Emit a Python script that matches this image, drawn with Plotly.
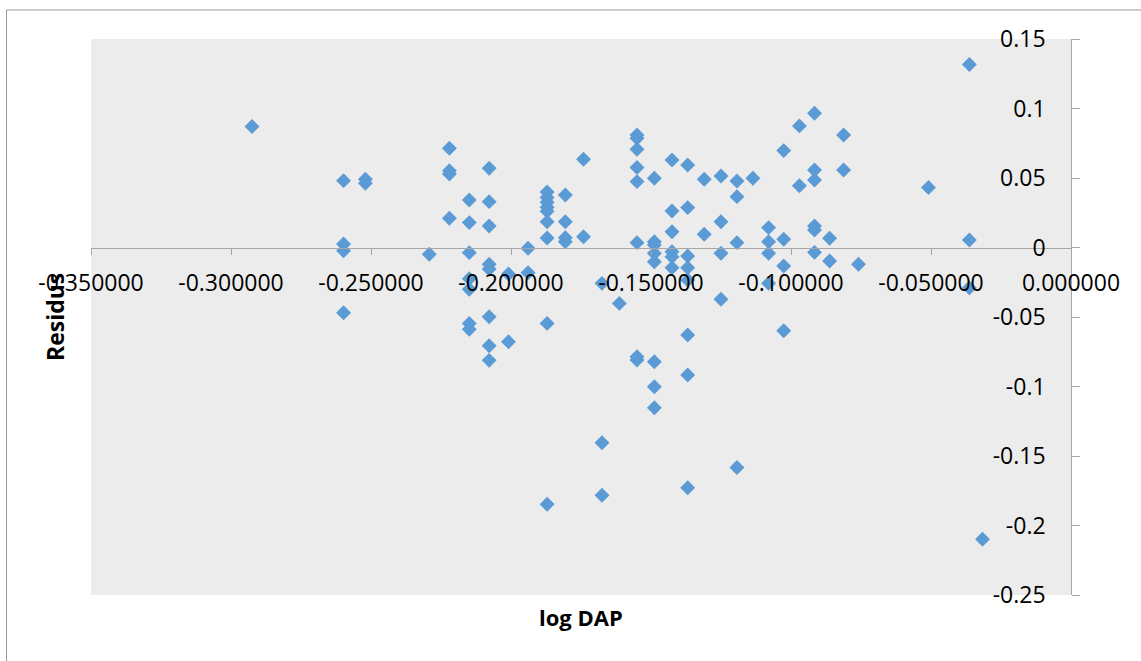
import plotly.graph_objects as go

# log DAP (x) and residuals (y) for each observation
log_dap = [
    -0.2925, -0.2598, -0.2520, -0.2520, -0.2598, -0.2598, -0.2598, -0.2292,
    -0.2220, -0.2220, -0.2220, -0.2220,
    -0.2149, -0.2149, -0.2149, -0.2149, -0.2149, -0.2149, -0.2149,
    -0.2078, -0.2078, -0.2078, -0.2078, -0.2078, -0.2078, -0.2078, -0.2078,
    -0.2009, -0.2009, -0.1939, -0.1939,
    -0.1871, -0.1871, -0.1871, -0.1871, -0.1871, -0.1871, -0.1871, -0.1871, -0.1871,
    -0.1806, -0.1806, -0.1806, -0.1806, -0.1741, -0.1741,
    -0.1675, -0.1675, -0.1675, -0.1613,
    -0.1550, -0.1550, -0.1550, -0.1550, -0.1550, -0.1550, -0.1550, -0.1550,
    -0.1488, -0.1488, -0.1488, -0.1488, -0.1488, -0.1488, -0.1488, -0.1488,
    -0.1425, -0.1425, -0.1425, -0.1425, -0.1425, -0.1425,
    -0.1369, -0.1369, -0.1369, -0.1369, -0.1369, -0.1369, -0.1369, -0.1369,
    -0.1310, -0.1310, -0.1250, -0.1250, -0.1250, -0.1250,
    -0.1193, -0.1193, -0.1193, -0.1193, -0.1136,
    -0.1080, -0.1080, -0.1080, -0.1080,
    -0.1026, -0.1026, -0.1026, -0.1026, -0.0970, -0.0970,
    -0.0916, -0.0916, -0.0916, -0.0916, -0.0916, -0.0916,
    -0.0862, -0.0862, -0.0812, -0.0812, -0.0759,
    -0.0509, -0.0363, -0.0363, -0.0363, -0.0316,
]
residus = [
    0.0870, 0.0481, 0.0491, 0.0462, 0.0025, -0.0023, -0.0469, -0.0049,
    0.0714, 0.0553, 0.0529, 0.0210,
    0.0342, 0.0179, -0.0037, -0.0225, -0.0300, -0.0546, -0.0589,
    0.0570, 0.0330, 0.0155, -0.0121, -0.0155, -0.0498, -0.0707, -0.0812,
    -0.0191, -0.0678, -0.0006, -0.0181,
    0.0400, 0.0360, 0.0325, 0.0290, 0.0260, 0.0186, 0.0068, -0.0546, -0.1847,
    0.0378, 0.0186, 0.0071, 0.0042, 0.0635, 0.0078,
    -0.0258, -0.1405, -0.1782, -0.0402,
    0.0810, 0.0786, 0.0707, 0.0575, 0.0474, 0.0035, -0.0786, -0.0810,
    0.0498, 0.0042, 0.0018, -0.0042, -0.0102, -0.0822, -0.1002, -0.1153,
    0.0630, 0.0263, 0.0114, -0.0030, -0.0066, -0.0145,
    0.0594, 0.0287, -0.0061, -0.0145, -0.0234, -0.0630, -0.0918, -0.1729,
    0.0491, 0.0095, 0.0515, 0.0186, -0.0042, -0.0373,
    0.0479, 0.0366, 0.0035, -0.1583, 0.0498,
    0.0143, 0.0042, -0.0042, -0.0258,
    0.0697, 0.0059, -0.0133, -0.0599, 0.0875, 0.0445,
    0.0966, 0.0558, 0.0486, 0.0155, 0.0126, -0.0035,
    0.0066, -0.0097, 0.0810, 0.0558, -0.0121,
    0.0431, 0.1316, 0.0054, -0.0289, -0.2099,
]

x_ticks = [-0.35, -0.30, -0.25, -0.20, -0.15, -0.10, -0.05, 0.0]
x_tick_labels = ["-0.350000", "-0.300000", "-0.250000", "-0.200000",
                 "-0.150000", "-0.100000", "-0.050000", "0.000000"]
y_ticks = [-0.25, -0.20, -0.15, -0.10, -0.05, 0.0, 0.05, 0.10, 0.15]
y_tick_labels = ["-0.25", "-0.2", "-0.15", "-0.1", "-0.05", "0", "0.05", "0.1", "0.15"]

FONT = "Open Sans"
AXIS_GREY = "#A6A6A6"

fig = go.Figure(
    go.Scatter(
        x=log_dap,
        y=residus,
        mode="markers",
        marker=dict(symbol="diamond", size=11.5, color="#5B9BD5", line=dict(width=0)),
        cliponaxis=False,
        hoverinfo="x+y",
    )
)

fig.update_layout(
    width=1141,
    height=661,
    margin=dict(l=91, r=70, t=39, b=66, pad=0),
    paper_bgcolor="white",
    plot_bgcolor="#ECECEC",
    showlegend=False,
    font=dict(family=FONT, size=23, color="black"),
    xaxis=dict(
        range=[-0.35, 0.0],
        tickvals=x_ticks,
        ticktext=x_tick_labels,
        showgrid=False,
        zeroline=False,
        showline=True,
        linecolor=AXIS_GREY,
        linewidth=1,
        ticks="outside",
        ticklen=6,
        tickcolor=AXIS_GREY,
        anchor="free",
        position=0.625,
        tickfont=dict(family=FONT, size=23, color="black"),
        ticklabelstandoff=9,
        ticklabeloverflow="allow",
    ),
    yaxis=dict(
        range=[-0.25, 0.15],
        tickvals=y_ticks,
        ticktext=y_tick_labels,
        side="right",
        showgrid=False,
        zeroline=False,
        showline=True,
        linecolor=AXIS_GREY,
        linewidth=1,
        ticks="outside",
        ticklen=8,
        tickcolor=AXIS_GREY,
        ticklabelposition="inside",
        tickfont=dict(family=FONT, size=23, color="black"),
        ticklabelstandoff=27,
        ticklabeloverflow="allow",
    ),
    shapes=[
        # chart-area frame
        dict(type="rect", xref="paper", yref="paper",
             x0=-0.0862, x1=1.2, y0=-0.3, y1=1.0522,
             line=dict(color="#9A9A9A", width=1), fillcolor="rgba(0,0,0,0)",
             layer="below"),
    ],
    annotations=[
        dict(text="<b>Residus</b>", xref="paper", yref="paper",
             x=-0.0367, y=0.5, textangle=-90, showarrow=False,
             font=dict(family=FONT, size=23, color="black"),
             xanchor="center", yanchor="middle"),
        dict(text="<b>log DAP</b>", xref="paper", yref="paper",
             x=0.5, y=-0.0396, showarrow=False,
             font=dict(family=FONT, size=22, color="black"),
             xanchor="center", yanchor="middle"),
    ],
)

fig.write_html("out.html")
